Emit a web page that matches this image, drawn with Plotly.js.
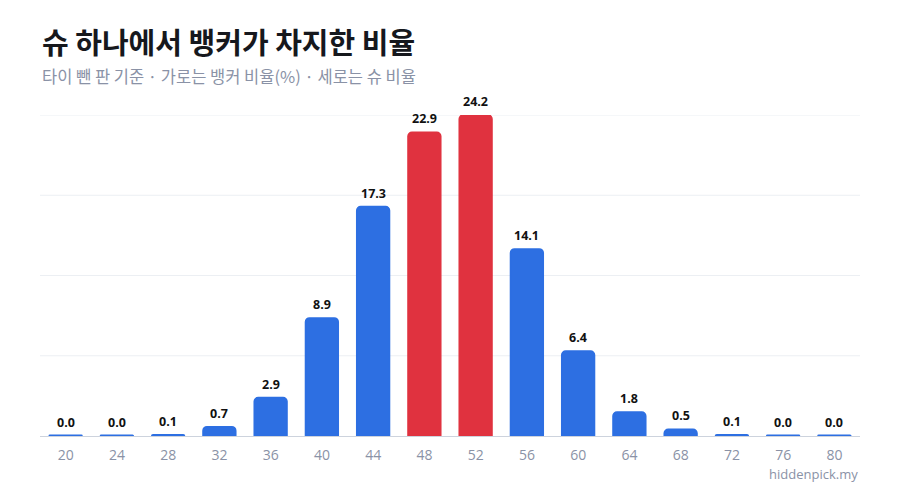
<!DOCTYPE html>
<html><head><meta charset="utf-8">
<script src="https://cdn.plot.ly/plotly-3.0.1.min.js"></script>
<style>html,body{margin:0;padding:0;background:#fff}#c{width:900px;height:500px}</style>
</head><body><div id="c"></div>
<script>
const categories = ['20','24','28','32','36','40','44','48','52','56','60','64','68','72','76','80'];
const values = [0.0,0.0,0.1,0.7,2.9,8.9,17.3,22.9,24.2,14.1,6.4,1.8,0.5,0.1,0.0,0.0];
const highlight = ['48','52'];
const titleText = '슈 하나에서 뱅커가 차지한 비율';
const subtitleText = '타이 뺀 판 기준 · 가로는 뱅커 비율(%) · 세로는 슈 비율';
const sourceText = 'hiddenpick.my';

const BLUE = '#2D6FE2', RED = '#E0323F';
const font = '"Noto Sans CJK KR", "Noto Sans", sans-serif';
const latin = '"Open Sans", "Noto Sans", sans-serif';
const colors = categories.map(c => highlight.includes(c) ? RED : BLUE);
const maxV = Math.max(...values);
// minimum visible bar length (like a chart library's minBarLength) so 0.0 bars show as a thin line
const MIN_BAR = 0.05;
const shownValues = values.map(v => Math.max(v, MIN_BAR));

// value labels placed at the bar's category index through the category axis
const valueLabels = categories.map((c, i) => ({
  x: i, y: values[i], xref: 'x', yref: 'y', text: values[i].toFixed(1),
  showarrow: false, yanchor: 'bottom', yshift: 3,
  font: {family: latin, size: 12.5, color: '#111111', weight: 700}
}));

// grid lines at quarters of the max value
const gridVals = [1, 2, 3, 4].map(k => maxV * k / 4);
const gridShapes = gridVals.map(g => ({
  type: 'line', xref: 'paper', yref: 'y', x0: 0, x1: 1, y0: g, y1: g,
  line: {color: '#ECEFF3', width: 1}, layer: 'below'
}));

Plotly.newPlot('c', [{
  type: 'bar',
  x: categories,
  y: shownValues,
  marker: {color: colors, cornerradius: 4, line: {color: colors, width: 1.5}},
  cliponaxis: false,
  hoverinfo: 'none'
}], {
  width: 900, height: 500,
  margin: {l: 40, r: 40, t: 115, b: 64},
  paper_bgcolor: '#ffffff', plot_bgcolor: '#ffffff',
  bargap: 0.36,
  showlegend: false,
  font: {family: font},
  xaxis: {
    type: 'category',
    categoryorder: 'array', categoryarray: categories,
    range: [-0.5, categories.length - 0.5],
    showline: true, linecolor: '#CDD3DD', linewidth: 1, layer: 'below traces',
    showgrid: false, ticks: '',
    tickfont: {family: latin, size: 14, color: '#8A92A6'},
    ticklabelstandoff: 6
  },
  yaxis: {
    range: [0, maxV], showgrid: false,
    showticklabels: false, ticks: '',
    zeroline: false, fixedrange: true
  },
  shapes: gridShapes,
  annotations: [
    {text: titleText, xref: 'paper', yref: 'paper', x: 0, y: 1, xanchor: 'left', yanchor: 'bottom',
     yshift: 51, showarrow: false, font: {family: font, size: 29, color: '#16181D', weight: 700}},
    {text: subtitleText, xref: 'paper', yref: 'paper', x: 0, y: 1, xanchor: 'left', yanchor: 'bottom',
     yshift: 25, showarrow: false, font: {family: font, size: 16.5, color: '#8A92A6'}},
    {text: sourceText, xref: 'paper', yref: 'paper', x: 1, y: 0, xanchor: 'right', yanchor: 'top',
     yshift: -27, showarrow: false, font: {family: latin, size: 13, color: '#8A92A6'}}
  ].concat(valueLabels)
}, {displayModeBar: false, staticPlot: true});
</script></body></html>
